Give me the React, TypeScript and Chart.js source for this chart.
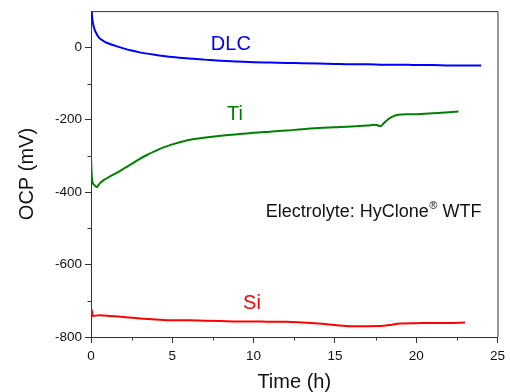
import React, { useEffect, useRef } from "react";
import { Chart, registerables } from "chart.js";

Chart.register(...registerables);

const FONT = "Arial, 'Liberation Sans', Helvetica, sans-serif";

// DLC series (time in h, OCP in mV)
const dlcTime = [0, 0.05, 0.1, 0.2, 0.3, 0.5, 0.75, 1, 1.5, 2, 2.5, 3, 4, 5, 6, 7, 8, 9, 10, 11, 12, 13, 14, 15, 16, 17, 18, 19, 20, 21, 22, 23, 24];
const dlcOcp = [135, 95, 72, 52, 41, 26, 18, 12, 4, -3, -9, -14, -21, -27, -31, -34, -37, -39, -41, -42, -43, -44, -45, -46, -47, -47, -48, -48, -49, -49, -50, -50, -50];

// Ti series
const tiTime = [0, 0.03, 0.08, 0.2, 0.35, 0.55, 0.8, 1.2, 1.8, 2.5, 3, 3.5, 4.2, 5, 6, 6.7, 8, 9, 10, 11, 12, 13, 14, 15, 16, 17, 17.5, 17.8, 18, 18.3, 18.6, 18.9, 19.5, 20.3, 21, 22, 22.6];
const tiOcp = [-300, -340, -370, -380, -386, -375, -366, -356, -341, -322, -308, -296, -281, -268, -256, -251, -244, -240, -236, -233, -230, -226, -223, -221, -219, -216, -214, -218, -210, -198, -190, -186, -185, -184, -182, -179, -177];

// Si series
const siTime = [0, 0.05, 0.1, 0.5, 1, 2, 3, 4, 5, 6, 7, 8, 9, 10, 11, 12, 13, 14, 15, 16, 17, 18, 18.5, 19, 20, 21, 22, 23];
const siOcp = [-742, -725, -742, -740, -741, -745, -749, -752, -754, -754, -755, -756, -757, -757, -758, -758, -760, -763, -767, -770, -770, -769, -766, -763, -762, -761, -761, -760];

// Axis ranges and ticks
const xMin = 0, xMax = 25, xStep = 2.5, xLabelEvery = 5;
const yMin = -800, yMax = 100, yStep = 100, yLabelEvery = 200;
const xMinorTicks = [2.5, 7.5, 12.5, 17.5, 22.5];
const yMinorTicks = [-700, -500, -300, -100];

const seriesNames = ["DLC", "Ti", "Si"];
const seriesColors = ["#0000ff", "#008000", "#ff0000"];

export default function App() {
  const ref = useRef<HTMLCanvasElement>(null);

  useEffect(() => {
    const pts = (t: number[], v: number[]) => t.map((x, i) => ({ x, y: v[i] }));

    const decor = {
      id: "decor",
      afterDraw(chart: any) {
        const { ctx, chartArea, scales } = chart;
        const { left, right, top, bottom } = chartArea;
        ctx.save();
        ctx.strokeStyle = "#333";
        ctx.lineWidth = 1;
        // frame top/right
        ctx.beginPath();
        ctx.moveTo(left, top + 0.5);
        ctx.lineTo(right + 0.5, top + 0.5);
        ctx.lineTo(right + 0.5, bottom);
        ctx.stroke();
        // minor ticks
        ctx.beginPath();
        xMinorTicks.forEach((v) => {
          const px = Math.round(scales.x.getPixelForValue(v)) + 0.5;
          ctx.moveTo(px, bottom);
          ctx.lineTo(px, bottom + 3.5);
        });
        yMinorTicks.forEach((v) => {
          const py = Math.round(scales.y.getPixelForValue(v)) + 0.5;
          ctx.moveTo(left, py);
          ctx.lineTo(left - 3.5, py);
        });
        ctx.stroke();

        // series labels
        ctx.textAlign = "center";
        ctx.textBaseline = "middle";
        ctx.font = `20px ${FONT}`;
        const labelPos = [
          [scales.x.getPixelForValue(8.6), scales.y.getPixelForValue(8)],
          [scales.x.getPixelForValue(8.85), scales.y.getPixelForValue(-185)],
          [scales.x.getPixelForValue(9.9), scales.y.getPixelForValue(-708)],
        ];
        seriesNames.forEach((n, i) => {
          ctx.fillStyle = seriesColors[i];
          ctx.fillText(n, labelPos[i][0], labelPos[i][1]);
        });

        // electrolyte note
        ctx.fillStyle = "#111";
        ctx.textAlign = "left";
        const x0 = scales.x.getPixelForValue(10.75);
        const y0 = scales.y.getPixelForValue(-455);
        ctx.font = `18px ${FONT}`;
        const p1 = "Electrolyte: HyClone";
        ctx.fillText(p1, x0, y0);
        let x = x0 + ctx.measureText(p1).width + 0.5;
        ctx.font = `11px ${FONT}`;
        ctx.fillText("®", x, y0 - 6);
        x += ctx.measureText("®").width;
        ctx.font = `18px ${FONT}`;
        ctx.fillText(" WTF", x, y0);
        ctx.restore();
      },
    };

    const chart = new Chart(ref.current as HTMLCanvasElement, {
      type: "line",
      data: {
        datasets: [
          { label: seriesNames[0], data: pts(dlcTime, dlcOcp), borderColor: seriesColors[0] },
          { label: seriesNames[1], data: pts(tiTime, tiOcp), borderColor: seriesColors[1] },
          { label: seriesNames[2], data: pts(siTime, siOcp), borderColor: seriesColors[2] },
        ].map((d) => ({
          ...d,
          borderWidth: 2,
          pointRadius: 0,
          fill: false,
          cubicInterpolationMode: "monotone" as const,
          clip: 0,
        })),
      },
      options: {
        responsive: false,
        animation: false,
        devicePixelRatio: 1,
        layout: { padding: { left: 0, right: 10, top: 10, bottom: 0 } },
        plugins: { legend: { display: false }, tooltip: { enabled: false } },
        scales: {
          x: {
            type: "linear",
            min: xMin,
            max: xMax,
            ticks: {
              stepSize: xStep,
              autoSkip: false,
              maxRotation: 0,
              padding: 5,
              color: "#111",
              font: { family: FONT, size: 13.5 },
              callback: (v: any) => (Number(v) % xLabelEvery === 0 ? String(v) : ""),
            },
            grid: {
              drawOnChartArea: false,
              drawTicks: true,
              tickLength: 6,
              tickColor: (c: any) => (c.tick && c.tick.value % xLabelEvery === 0 ? "#333" : "rgba(0,0,0,0)"),
            },
            border: { display: true, color: "#333", width: 1 },
            title: {
              display: true,
              text: "Time (h)",
              color: "#111",
              font: { family: FONT, size: 20, lineHeight: 1 },
              padding: { top: 0, bottom: 0 },
            },
            afterFit: (s: any) => {
              s.height = 55;
            },
          },
          y: {
            type: "linear",
            min: yMin,
            max: yMax,
            ticks: {
              stepSize: yStep,
              autoSkip: false,
              padding: 3,
              color: "#111",
              font: { family: FONT, size: 13.5 },
              callback: (v: any) => (Number(v) % yLabelEvery === 0 ? String(v) : ""),
            },
            grid: {
              drawOnChartArea: false,
              drawTicks: true,
              tickLength: 6,
              tickColor: (c: any) => (c.tick && c.tick.value % yLabelEvery === 0 ? "#333" : "rgba(0,0,0,0)"),
            },
            border: { display: true, color: "#333", width: 1 },
            title: {
              display: true,
              text: "OCP (mV)",
              color: "#111",
              font: { family: FONT, size: 20, lineHeight: 1 },
              padding: { top: 17, bottom: 0 },
            },
            afterFit: (s: any) => {
              s.width = 91;
            },
          },
        },
      },
      plugins: [decor],
    });
    return () => chart.destroy();
  }, []);

  return (
    <div style={{ position: "absolute", left: 0, top: 0, width: 510, height: 392, background: "#fff" }}>
      <canvas ref={ref} width={510} height={392} style={{ display: "block" }} />
    </div>
  );
}
